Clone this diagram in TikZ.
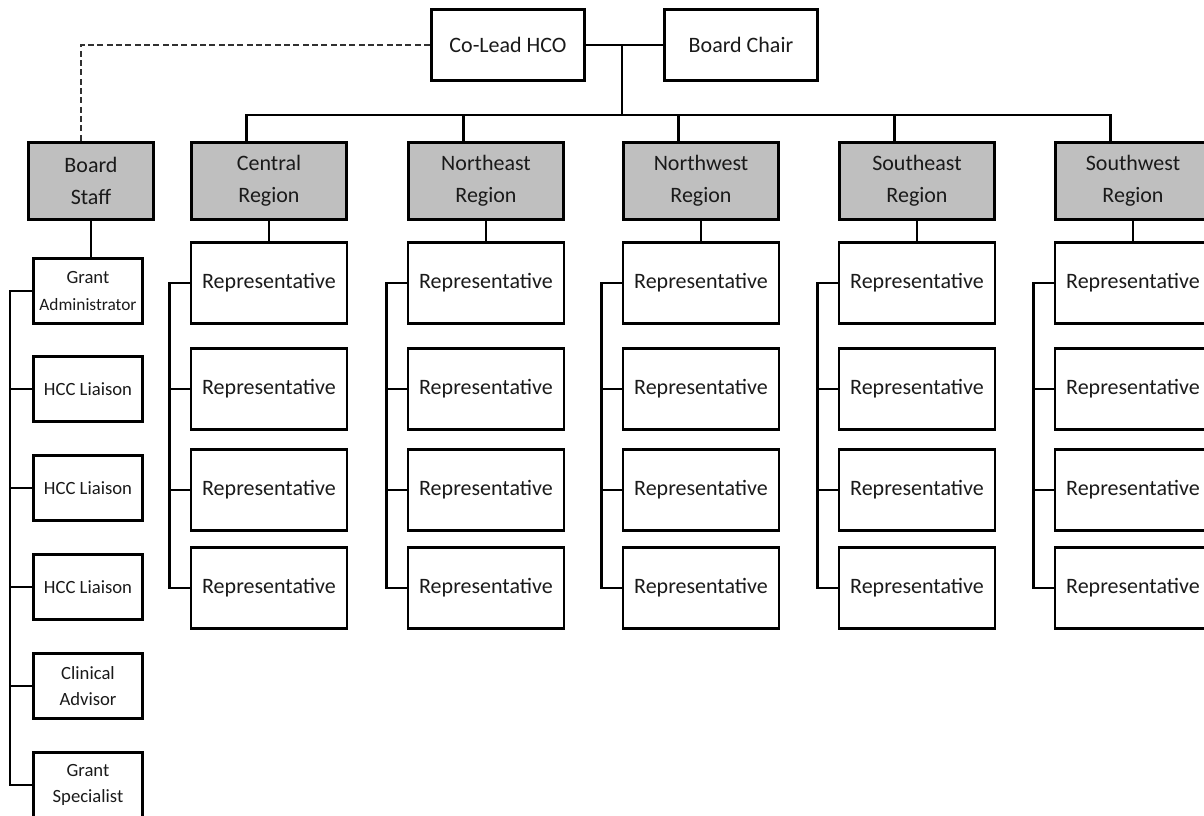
\documentclass[tikz,border=0pt]{standalone}
\usepackage{fontspec}
\setmainfont{Carlito}
\usetikzlibrary{positioning}
\definecolor{boxgray}{HTML}{BFBFBF}
\definecolor{inkgray}{HTML}{1A1A1A}
\tikzset{
  box/.style={draw, line width=2.2pt, text=inkgray, align=center, inner sep=0pt},
  leadbox/.style={box, minimum width=115pt, minimum height=53pt, font=\fontsize{16.5}{24}\selectfont},
  region/.style={box, fill=boxgray, minimum width=116.5pt, minimum height=58pt, font=\fontsize{16.5}{24}\selectfont},
  rep/.style={box, minimum width=117pt, minimum height=61pt, font=\fontsize{16.5}{24}\selectfont},
  staffbox/.style={box, minimum width=82pt, minimum height=49pt, font=\fontsize{14}{20}\selectfont},
  link/.style={line width=1.8pt}
}
\begin{document}
\begin{tikzpicture}[x=0.75pt, y=-0.75pt]
		\useasboundingbox (0,0) rectangle (1204,816);
		\clip (0,0) rectangle (1204,816);
		% top
		\node[leadbox] (lead) at (508,45) {Co-Lead HCO};
		\node[leadbox] (chair) at (741,45) {Board Chair};
		\coordinate (hub) at (622,45);
		\coordinate (bus) at (622,115);
		\draw[link] (lead.east)--(chair.west) (hub)--(bus);
		% board staff
		\node[region, minimum width=94pt] (staff) at (91,181) {Board\\Staff};
		\draw[link, dashed, dash pattern=on 4.5pt off 2.5pt, line width=1.3pt, draw=inkgray!90]
		  (lead.west) -| ([xshift=-7.5pt]staff.north);
		\foreach \i/\y/\t in {1/291/{Grant\\\fontsize{13}{20}\selectfont Administrator}, 2/389/{HCC Liaison}, 3/488/{HCC Liaison},
		  4/587/{HCC Liaison}, 5/686/{Clinical\\Advisor}, 6/785/{Grant\\Specialist}}
		  \node[staffbox] (s\i) at (88,\y) {\t};
		\coordinate (sbus) at ([xshift=-16.5pt]s1.west);
		\draw[link] (staff.south)--(staff.south |- s1.north);
		\draw[link] (s1.west)--(sbus) |- (s6.west);
		\foreach \i in {2,3,4,5} \draw[link] (sbus |- s\i.west)--(s\i.west);
		% regions
		\foreach \n/\x/\t in {central/269/Central, northeast/486/Northeast, northwest/701/Northwest,
		  southeast/917/Southeast, southwest/1133/Southwest} {
		  \node[region] (\n) at (\x,181) {\t\\Region};
		  \draw[link] ([xshift=-17pt]\n.north) |- (bus);
		  \foreach \i/\y in {1/283,2/389,3/490,4/588}
		    \node[rep] (\n-\i) at (\x,\y) {Representative};
		  \coordinate (\n-bus) at ([xshift=-15pt]\n-1.west);
		  \draw[link] (\n.south)--(\n-1.north);
		  \draw[link] (\n-1.west)--(\n-bus) |- (\n-4.west);
		  \foreach \i in {2,3} \draw[link] (\n-bus |- \n-\i.west)--(\n-\i.west);
		}
\end{tikzpicture}
\end{document}
